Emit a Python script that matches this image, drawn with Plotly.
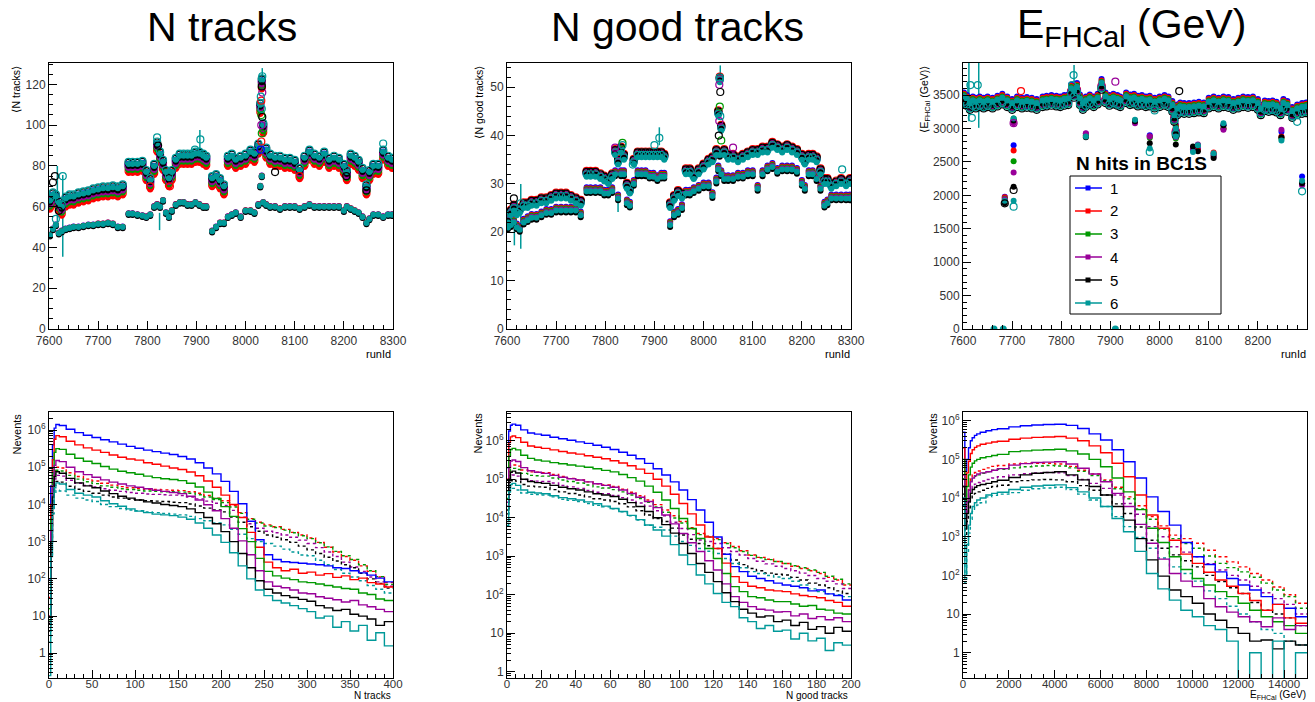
import plotly.graph_objects as go

W, H = 1315, 702


def px(x):
    return x / W


def py(y):
    return 1 - y / H


FONT = "Liberation Sans, Arial, Helvetica, sans-serif"
SERIES_NAMES = ["1", "2", "3", "4", "5", "6"]
COLORS = ["#0000ff", "#ff0000", "#009900", "#990099", "#000000", "#009999"]

# ---------------- top row: profiles vs runId ----------------
RUNS = [
    7602, 7608, 7614, 7620, 7626, 7634, 7642, 7650, 7660, 7670,
    7680, 7690, 7700, 7710, 7720, 7730, 7740, 7750, 7762, 7770,
    7780, 7790, 7798, 7806, 7814, 7820, 7826, 7832, 7838, 7844,
    7850, 7858, 7866, 7874, 7882, 7890, 7898, 7906, 7914, 7920,
    7932, 7940, 7948, 7956, 7964, 7972, 7980, 7990, 8000, 8010,
    8018, 8026, 8030, 8033, 8036, 8042, 8050, 8060, 8070, 8080,
    8090, 8100, 8110, 8120, 8130, 8140, 8150, 8160, 8170, 8180,
    8190, 8200, 8206, 8214, 8222, 8230, 8238, 8246, 8252, 8260,
    8270, 8280, 8290, 8298]

NTRK_UPPER = [
    63, 66, 65, 62, 60, 64, 65, 65, 66, 66.5,
    67, 68, 68.5, 69, 69, 69.5, 69, 70, 81, 81,
    81, 81.5, 77, 73, 80, 91, 86, 82, 77, 74,
    77, 83, 85, 85, 85, 85, 86, 86, 85, 84,
    74, 75, 73, 70, 84, 85, 83, 84, 85, 87,
    86, 90, 110, 122, 100, 88, 85, 84, 84, 83,
    83, 82, 78, 84, 87, 85, 84, 86, 83, 84,
    83, 80, 77, 85, 84, 82, 78, 70, 77, 80,
    80, 87, 84, 83]
NTRK_LOWER = [
    46, 49, 51, 47, 48, 49, 49.5, 50, 50, 50.5,
    51, 51, 51.5, 51.5, 52, 51.5, 50, 50, 56.5, 56.5,
    56, 55.5, 55, 56, 60, 61, 60, 63, 57, 55,
    58, 61, 62, 62, 61, 61, 62, 61, 60, 60,
    48, 50, 52, 52, 55, 56, 57, 55, 58, 58,
    57, 61, 70, 75, 62, 61, 60, 60, 59, 60,
    60, 60, 59, 60, 61, 60, 60, 60, 60, 60,
    60, 58, 60, 59, 58, 57, 55, 52, 54, 56,
    56, 55, 56, 56]
NTRK_UPPER_SHIFT = [-1.5, -4.5, -3.0, -2.0, -1.0, 0.0]
NTRK_OPEN_SHIFT = [-0.5, -3.5, -2.0, -1.0, 0.5, 1.0]
NTRK_LOWER_SHIFT = [0.3, 0.2, 0.0, -0.3, -0.6, 0.0]
NTRK_OPEN_EXTRA = [(7608, 4, 72), (7612, 4, 75), (7614, 5, 54), (7628, 5, 75),
                   (7620, 4, 58), (7908, 5, 93), (7897, 5, 88), (7820, 5, 94),
                   (7822, 4, 90), (8280, 5, 91), (8060, 4, 77), (8110, 1, 75),
                   (8205, 4, 75), (8246, 4, 68), (7806, 1, 70), (7846, 1, 70),
                   (8031, 0, 88), (8032, 1, 92), (8033, 2, 96), (8032, 3, 100),
                   (8034, 4, 104), (8033, 5, 108), (8032, 1, 112), (8034, 3, 116),
                   (8033, 4, 119), (8034, 5, 124), (8032, 2, 105), (8031, 5, 114)]
NTRK_ERR = [(7628, 35.5, 75.5), (7617, 52, 80), (7907, 85, 97.6),
            (7825, 48.5, 57), (8034, 121, 128)]

GOOD_UPPER = [
    23, 24.5, 25.5, 24.5, 25, 26, 26, 26.5, 26.5, 27,
    27, 27.5, 28, 28, 28, 27.5, 27, 26.5, 32.5, 32.5,
    32.5, 32, 31.5, 31, 32, 37, 35, 37.5, 36, 30,
    29, 35, 36.5, 36.5, 36.5, 36.5, 36.5, 36.5, 36.5, 36,
    26, 27.5, 28.5, 28, 33, 33, 32, 33, 34, 35,
    35.5, 37, 45, 52, 42, 37, 36, 36, 35.5, 36,
    36.5, 37, 37, 37.5, 37.5, 38.5, 38, 37.5, 38, 37.5,
    37, 36, 35, 36, 36, 35.5, 33, 31, 31, 30,
    30.5, 31, 30.5, 31]
GOOD_LOWER = [
    21, 21.5, 22, 21, 20.5, 22, 22.5, 23, 23, 23.5,
    24, 24, 24.5, 24.5, 24.5, 24.5, 24.5, 23.5, 28.5, 28.5,
    28.5, 28.5, 28, 28, 28.5, 32, 27, 32, 32, 26,
    25.5, 30, 32, 32, 32, 31.5, 31.5, 31, 31.5, 31.5,
    21.5, 23.5, 24, 25, 28, 28, 28.5, 29, 29.5, 29.5,
    27.5, 30.5, 33, 36, 32, 31, 31, 31, 31.5, 31.5,
    32, 32, 29, 32, 33, 33.5, 32.5, 33, 33, 33,
    32.5, 30, 29, 32, 32, 31, 29, 25.5, 26, 27,
    27, 27, 27, 27]
GOOD_UPPER_SHIFT = [-0.5, 0.0, -0.3, -0.4, -0.6, -1.0]
GOOD_OPEN_SHIFT = [-0.3, 0.2, -0.1, -0.2, 0.0, -0.5]
GOOD_LOWER_SHIFT = [0.8, 0.6, 0.4, 0.2, -0.4, 0.0]
GOOD_OPEN_EXTRA = [(7614, 4, 27), (7628, 5, 26), (7900, 5, 38), (7910, 5, 39.5),
                   (8282, 5, 33), (8060, 3, 37.5), (7820, 3, 37.5), (7835, 2, 38.5),
                   (7835, 5, 38), (7856, 5, 34), (8031, 4, 40), (8032, 3, 43),
                   (8033, 2, 46), (8034, 4, 49), (8033, 5, 52), (8032, 3, 50.5),
                   (8034, 5, 44), (8036, 2, 39)]
GOOD_ERR = [(7615, 17.3, 26), (7628, 16.6, 30), (7910, 38, 41.7),
            (7826, 24.2, 27.6), (8034, 52.4, 54.5)]

E_BAND = [
    3480, 3440, 3380, 3420, 3400, 3420, 3400, 3420, 3400, 3430,
    3460, 3420, 3380, 3420, 3400, 3410, 3400, 3380, 3420, 3430,
    3440, 3430, 3420, 3440, 3450, 3600, 3560, 3620, 3450, 3380,
    3420, 3450, 3420, 3460, 3680, 3480, 3440, 3460, 3440, 3420,
    3480, 3450, 3460, 3430, 3440, 3420, 3430, 3400, 3420, 3440,
    3420, 3350, 3200, 3000, 3300, 3330, 3320, 3320, 3330, 3340,
    3330, 3400, 3420, 3400, 3420, 3410, 3380, 3400, 3420, 3410,
    3420, 3380, 3300, 3360, 3350, 3360, 3340, 3300, 3380, 3350,
    3260, 3300, 3320, 3330]
E_FILLED_SHIFT = [60, 40, 20, 0, -50, 0]
E_OPEN_SHIFT = [-60, -40, -70, -50, -100, -80]
E_OUTLIER_RUNS = [7685, 7703, 7703, 7850, 7950, 7980, 8033, 8068, 8078,
                  8110, 8130, 8248, 8290]
E_OUTLIER_VALUES = [
    [1980, 1970, 1950, 1940, 1880, 1920],
    [2750, 2670, 2510, 2340, 2130, 1920],
    [3120, 3100, 3150, 3080, 3120, 3150],
    [2920, 2900, 2890, 2930, 2870, 2880],
    [3100, 3120, 3100, 3080, 3110, 3130],
    [2900, 2880, 2860, 2880, 2780, 2700],
    [2900, 2880, 2850, 2870, 2760, 2880],
    [2700, 2700, 2680, 2690, 2730, 2650],
    [2700, 2680, 2750, 2760, 2660, 2750],
    [2620, 2640, 2600, 2580, 2560, 2630],
    [3050, 3000, 3000, 2980, 3050, 3080],
    [2950, 2880, 2850, 2980, 2870, 2820],
    [2280, 2180, 2170, 2150, 2180, 2220]]
E_ZERO_RUNS = [7663, 7682, 7910]
E_OPEN_EXTRA = [(7685, 4, 1880), (7703, 4, 2080), (7703, 5, 1830), (7980, 5, 2650),
                (8290, 5, 2060), (7825, 5, 3800), (7822, 5, 3650), (7615, 5, 3650),
                (7630, 5, 3650), (7990, 5, 3270), (8280, 5, 3100), (7618, 5, 3160),
                (8040, 4, 3560), (7718, 1, 3560), (7910, 3, 3700), (7703, 3, 3080)]
E_ERR = [(7612, 3110, 3990), (7632, 3010, 3990), (7826, 3600, 3950), (7610, 3300, 3700)]

# ---------------- bottom row: histograms (values are log10 of Nevents) ----------------
NT_X = [0, 2, 4, 6, 8, 12, 20, 30, 40, 50, 60, 70, 80, 90, 100, 110, 120, 130, 140, 150,
        160, 170, 180, 190, 200, 210, 220, 230, 240, 250, 260, 270, 280, 290, 300, 310,
        320, 330, 340, 350, 360, 370, 380, 390]
NT_SOLID_LOG10 = [
    [2.0, 4.5, 5.6, 6.05, 6.15, 6.12,
     6.02, 5.93, 5.86, 5.80, 5.74, 5.68, 5.62, 5.56, 5.51, 5.46,
     5.42, 5.38, 5.34, 5.29, 5.22, 5.12, 4.98, 4.82, 4.62, 4.35,
     4.02, 3.55, 3.05, 2.65, 2.52, 2.46, 2.44, 2.42, 2.40, 2.38,
     2.35, 2.30, 2.28, 2.22, 2.16, 2.10, 2.02, 1.92],
    [1.5, 4.0, 5.2, 5.75, 5.85, 5.82,
     5.70, 5.60, 5.52, 5.46, 5.40, 5.33, 5.27, 5.22, 5.19, 5.12,
     5.08, 5.03, 4.98, 4.94, 4.87, 4.77, 4.63, 4.46, 4.25, 4.00,
     3.65, 3.25, 2.85, 2.45, 2.30, 2.22, 2.26, 2.15, 2.18, 2.10,
     2.14, 2.04, 2.08, 1.98, 2.02, 1.90, 1.86, 1.78],
    [1.2, 3.6, 4.85, 5.40, 5.50, 5.48,
     5.35, 5.24, 5.16, 5.10, 5.02, 4.95, 4.89, 4.85, 4.81, 4.76,
     4.72, 4.69, 4.67, 4.64, 4.57, 4.47, 4.33, 4.16, 3.94, 3.68,
     3.35, 3.00, 2.55, 2.20, 2.08, 2.02, 1.98, 1.92, 1.90, 1.86,
     1.82, 1.78, 1.74, 1.72, 1.62, 1.58, 1.46, 1.42],
    [1.0, 3.3, 4.5, 5.05, 5.18, 5.15,
     5.00, 4.88, 4.80, 4.73, 4.66, 4.60, 4.55, 4.50, 4.46, 4.42,
     4.38, 4.35, 4.32, 4.29, 4.22, 4.12, 3.99, 3.83, 3.62, 3.36,
     3.02, 2.65, 2.22, 1.92, 1.80, 1.76, 1.70, 1.62, 1.60, 1.52,
     1.48, 1.44, 1.38, 1.42, 1.30, 1.25, 1.18, 1.12],
    [0.8, 3.0, 4.2, 4.75, 4.88, 4.84,
     4.70, 4.58, 4.50, 4.45, 4.36, 4.29, 4.22, 4.17, 4.12, 4.07,
     4.04, 4.00, 3.97, 3.94, 3.88, 3.78, 3.65, 3.48, 3.27, 3.00,
     2.68, 2.30, 1.95, 1.72, 1.62, 1.55, 1.50, 1.45, 1.40, 1.28,
     1.22, 1.15, 1.18, 1.05, 1.00, 0.92, 0.75, 0.85],
    [-0.6, 2.6, 3.9, 4.45, 4.58, 4.55,
     4.40, 4.30, 4.25, 4.20, 4.10, 4.02, 3.95, 3.88, 3.82, 3.78,
     3.74, 3.72, 3.70, 3.66, 3.60, 3.50, 3.36, 3.18, 2.98, 2.70,
     2.35, 2.00, 1.70, 1.55, 1.42, 1.35, 1.28, 1.20, 1.12, 0.95,
     1.00, 0.70, 0.85, 0.60, 0.75, 0.35, 0.55, 0.20]]
NT_DASHED_LOG10 = [
    [1.0, 3.5, 4.5, 4.9, 5.0, 4.98,
     4.85, 4.75, 4.68, 4.63, 4.57, 4.52, 4.48, 4.45, 4.43, 4.41,
     4.40, 4.39, 4.38, 4.37, 4.34, 4.30, 4.24, 4.17, 4.10, 3.97,
     3.78, 3.62, 3.52, 3.45, 3.40, 3.33, 3.25, 3.18, 3.10, 2.98,
     2.85, 2.72, 2.60, 2.50, 2.35, 2.20, 2.05, 1.90],
    [0.9, 3.4, 4.4, 4.82, 4.92, 4.90,
     4.78, 4.68, 4.61, 4.56, 4.50, 4.46, 4.42, 4.40, 4.38, 4.36,
     4.35, 4.34, 4.34, 4.33, 4.30, 4.26, 4.20, 4.13, 4.05, 3.93,
     3.76, 3.60, 3.50, 3.42, 3.38, 3.31, 3.24, 3.16, 3.08, 2.97,
     2.86, 2.74, 2.62, 2.52, 2.38, 2.22, 2.06, 1.85],
    [0.8, 3.2, 4.25, 4.68, 4.78, 4.76,
     4.65, 4.57, 4.51, 4.47, 4.42, 4.38, 4.35, 4.32, 4.30, 4.28,
     4.27, 4.26, 4.25, 4.24, 4.20, 4.15, 4.09, 4.03, 3.97, 3.84,
     3.66, 3.48, 3.36, 3.28, 3.24, 3.18, 3.12, 3.04, 2.95, 2.84,
     2.72, 2.60, 2.45, 2.32, 2.20, 2.05, 1.92, 1.80],
    [0.6, 3.0, 4.1, 4.52, 4.62, 4.60,
     4.49, 4.41, 4.35, 4.30, 4.25, 4.20, 4.17, 4.14, 4.12, 4.10,
     4.09, 4.08, 4.06, 4.05, 4.01, 3.96, 3.90, 3.85, 3.80, 3.66,
     3.52, 3.40, 3.28, 3.18, 3.12, 3.05, 2.98, 2.88, 2.78, 2.68,
     2.58, 2.48, 2.38, 2.30, 2.15, 2.00, 1.88, 1.75],
    [0.3, 2.6, 3.75, 4.28, 4.38, 4.36,
     4.25, 4.17, 4.12, 4.08, 4.00, 3.94, 3.89, 3.85, 3.83, 3.80,
     3.78, 3.76, 3.74, 3.72, 3.68, 3.62, 3.56, 3.50, 3.45, 3.33,
     3.20, 3.08, 3.00, 2.95, 2.88, 2.80, 2.72, 2.64, 2.62, 2.50,
     2.38, 2.25, 2.15, 2.05, 1.95, 1.82, 1.72, 1.62]]

GT_X = [0, 1, 2, 3, 5, 8, 12, 16, 20, 25, 30, 35, 40, 45, 50, 55, 60, 65, 70, 75, 80,
        85, 90, 95, 100, 105, 110, 115, 120, 125, 130, 135, 140, 145, 150, 155, 160,
        165, 170, 175, 180, 185, 190, 195]
GT_SOLID_LOG10 = [
    [5.3, 6.25, 6.40, 6.43, 6.40, 6.28, 6.20, 6.17,
     6.14, 6.09, 6.05, 6.01, 5.97, 5.93, 5.88, 5.83, 5.77, 5.70,
     5.62, 5.53, 5.41, 5.27, 5.11, 4.93, 4.72, 4.47, 4.20, 3.88,
     3.50, 3.05, 2.73, 2.60, 2.48, 2.42, 2.36, 2.30, 2.25, 2.22,
     2.18, 2.10, 2.12, 2.02, 1.98, 1.86],
    [5.0, 5.95, 6.10, 6.12, 6.08, 5.96, 5.86, 5.83,
     5.80, 5.76, 5.72, 5.68, 5.65, 5.61, 5.57, 5.53, 5.48, 5.42,
     5.35, 5.26, 5.15, 5.00, 4.82, 4.61, 4.37, 4.10, 3.81, 3.50,
     3.20, 2.82, 2.47, 2.32, 2.22, 2.18, 2.12, 2.10, 2.08, 2.02,
     1.98, 1.95, 1.92, 1.85, 1.80, 1.70],
    [4.7, 5.6, 5.77, 5.80, 5.76, 5.62, 5.54, 5.50,
     5.47, 5.43, 5.40, 5.37, 5.34, 5.31, 5.27, 5.23, 5.19, 5.12,
     5.04, 4.95, 4.82, 4.66, 4.46, 4.24, 3.98, 3.72, 3.46, 3.20,
     2.94, 2.55, 2.21, 2.08, 1.95, 1.92, 1.86, 1.82, 1.82, 1.76,
     1.70, 1.72, 1.62, 1.60, 1.52, 1.50],
    [4.4, 5.3, 5.47, 5.50, 5.46, 5.30, 5.22, 5.18,
     5.15, 5.10, 5.05, 5.01, 4.98, 4.93, 4.88, 4.84, 4.79, 4.72,
     4.63, 4.53, 4.42, 4.26, 4.07, 3.84, 3.59, 3.35, 3.12, 2.88,
     2.64, 2.28, 1.95, 1.80, 1.69, 1.62, 1.60, 1.55, 1.56, 1.45,
     1.50, 1.38, 1.43, 1.35, 1.40, 1.30],
    [4.2, 5.0, 5.18, 5.21, 5.16, 5.00, 4.94, 4.91,
     4.89, 4.84, 4.79, 4.75, 4.72, 4.67, 4.62, 4.59, 4.55, 4.48,
     4.39, 4.29, 4.16, 4.00, 3.82, 3.60, 3.33, 3.07, 2.81, 2.58,
     2.34, 2.05, 1.82, 1.62, 1.52, 1.42, 1.45, 1.30, 1.34, 1.20,
     1.28, 1.10, 1.17, 1.00, 1.15, 1.05],
    [3.9, 4.7, 4.86, 4.89, 4.84, 4.72, 4.66, 4.64,
     4.62, 4.57, 4.52, 4.49, 4.46, 4.41, 4.36, 4.30, 4.24, 4.16,
     4.06, 3.95, 3.81, 3.68, 3.52, 3.30, 3.03, 2.78, 2.51, 2.28,
     2.03, 1.80, 1.69, 1.40, 1.30, 1.12, 1.20, 1.05, 1.08, 0.85,
     1.00, 0.80, 0.87, 0.55, 0.75, 0.69]]
GT_DASHED_LOG10 = [
    [4.6, 5.2, 5.35, 5.37, 5.34, 5.24, 5.19, 5.18,
     5.17, 5.12, 5.07, 5.02, 4.98, 4.93, 4.88, 4.85, 4.81, 4.74,
     4.66, 4.57, 4.46, 4.34, 4.20, 4.05, 3.90, 3.74, 3.59, 3.52,
     3.46, 3.35, 3.25, 3.14, 3.03, 2.97, 2.92, 2.86, 2.81, 2.74,
     2.68, 2.62, 2.55, 2.45, 2.38, 2.25],
    [4.5, 5.1, 5.26, 5.28, 5.25, 5.15, 5.10, 5.09,
     5.08, 5.03, 4.98, 4.94, 4.90, 4.85, 4.80, 4.77, 4.73, 4.67,
     4.59, 4.50, 4.40, 4.28, 4.14, 3.99, 3.86, 3.71, 3.56, 3.50,
     3.43, 3.33, 3.22, 3.12, 3.02, 2.96, 2.91, 2.86, 2.81, 2.75,
     2.70, 2.64, 2.58, 2.48, 2.40, 2.28],
    [4.3, 4.95, 5.09, 5.11, 5.08, 4.99, 4.96, 4.95,
     4.94, 4.90, 4.84, 4.80, 4.76, 4.71, 4.66, 4.62, 4.58, 4.52,
     4.46, 4.38, 4.30, 4.18, 4.05, 3.88, 3.72, 3.56, 3.42, 3.38,
     3.33, 3.22, 3.12, 3.03, 2.94, 2.87, 2.80, 2.74, 2.68, 2.62,
     2.56, 2.50, 2.42, 2.35, 2.28, 2.16],
    [4.1, 4.8, 4.96, 4.98, 4.95, 4.86, 4.82, 4.80,
     4.79, 4.73, 4.67, 4.63, 4.59, 4.54, 4.49, 4.46, 4.42, 4.36,
     4.28, 4.18, 4.07, 3.98, 3.90, 3.73, 3.55, 3.44, 3.33, 3.27,
     3.20, 3.05, 2.90, 2.78, 2.68, 2.62, 2.56, 2.53, 2.51, 2.45,
     2.38, 2.30, 2.25, 2.18, 2.10, 2.03],
    [3.8, 4.6, 4.74, 4.76, 4.72, 4.64, 4.61, 4.60,
     4.59, 4.54, 4.48, 4.45, 4.42, 4.37, 4.32, 4.28, 4.23, 4.15,
     4.05, 3.94, 3.80, 3.75, 3.68, 3.52, 3.38, 3.28, 3.20, 3.13,
     3.07, 2.94, 2.81, 2.70, 2.60, 2.55, 2.50, 2.46, 2.42, 2.35,
     2.25, 2.15, 2.08, 2.02, 2.00, 1.95]]

E_X = [0, 80, 160, 240, 320, 400, 500, 600, 750, 1000, 1250, 1500, 2000, 2500, 3000,
       3500, 4000, 4500, 5000, 5500, 6000, 6500, 7000, 7500, 8000, 8500, 9000, 9500,
       10000, 10500, 11000, 11500, 12000, 12500, 13000, 13500, 14000, 14500]
E_SOLID_LOG10 = [
    [5.7, 4.7, 5.0, 5.3, 5.48, 5.56, 5.62, 5.66, 5.70, 5.74, 5.77, 5.79,
     5.84, 5.87, 5.89, 5.90, 5.91, 5.88, 5.80, 5.66, 5.50, 5.25, 4.94, 4.52, 4.03, 3.65,
     3.30, 2.85, 2.48, 2.28, 2.09, 1.92, 1.75, 1.62, 1.45, 1.25, 1.15, 0.93],
    [5.3, 4.3, 4.65, 4.95, 5.15, 5.25, 5.31, 5.35, 5.39, 5.42, 5.45, 5.47,
     5.52, 5.55, 5.57, 5.58, 5.59, 5.55, 5.48, 5.35, 5.17, 4.90, 4.55, 4.08, 3.56, 3.22,
     2.91, 2.55, 2.31, 2.08, 1.88, 1.72, 1.53, 1.35, 1.10, 1.25, 0.90, 0.76],
    [5.0, 3.9, 4.3, 4.6, 4.8, 4.9, 4.96, 5.0, 5.04, 5.07, 5.10, 5.13,
     5.20, 5.22, 5.24, 5.25, 5.26, 5.22, 5.14, 5.0, 4.81, 4.52, 4.16, 3.70, 3.22, 2.85,
     2.48, 2.15, 1.92, 1.75, 1.58, 1.45, 1.28, 1.10, 0.93, 0.80, 0.70, 0.50],
    [4.6, 3.5, 3.9, 4.2, 4.42, 4.52, 4.58, 4.62, 4.65, 4.68, 4.72, 4.76,
     4.85, 4.89, 4.92, 4.93, 4.94, 4.88, 4.77, 4.62, 4.42, 4.12, 3.78, 3.32, 2.83, 2.42,
     2.05, 1.85, 1.71, 1.40, 1.19, 1.05, 0.93, 0.80, 0.67, 0.90, 0.60, 0.70],
    [4.3, 3.2, 3.6, 3.9, 4.12, 4.22, 4.28, 4.32, 4.35, 4.38, 4.42, 4.46,
     4.53, 4.60, 4.64, 4.66, 4.68, 4.60, 4.47, 4.30, 4.08, 3.78, 3.43, 2.95, 2.40, 1.98,
     1.62, 1.45, 1.28, 1.00, 0.84, 0.65, 0.50, 0.30, 0.33, 0.10, 0.30, 0.20],
    [4.0, 2.0, 2.8, 3.3, 3.6, 3.78, 3.88, 3.95, 4.0, 4.08, 4.12, 4.15,
     4.22, 4.28, 4.31, 4.33, 4.34, 4.27, 4.16, 4.0, 3.78, 3.47, 3.13, 2.62, 2.05, 1.65,
     1.36, 1.10, 0.93, 0.70, 0.60, 0.30, -0.7, 0.0, -0.7, 0.3, -0.7, 0.0]]
E_DASHED_LOG10 = [
    [4.6, 3.6, 4.0, 4.3, 4.5, 4.6, 4.66, 4.70, 4.74, 4.78, 4.82, 4.84,
     4.88, 4.90, 4.90, 4.90, 4.88, 4.82, 4.72, 4.62, 4.47, 4.28, 4.03, 3.80, 3.52, 3.28,
     3.04, 2.95, 2.83, 2.65, 2.48, 2.35, 2.22, 2.05, 1.88, 1.70, 1.50, 1.28],
    [4.5, 3.5, 3.9, 4.2, 4.4, 4.5, 4.56, 4.60, 4.64, 4.68, 4.72, 4.74,
     4.78, 4.81, 4.83, 4.84, 4.83, 4.78, 4.69, 4.58, 4.44, 4.24, 3.98, 3.72, 3.45, 3.20,
     2.95, 2.82, 2.70, 2.50, 2.31, 2.20, 2.09, 1.95, 1.80, 1.62, 1.45, 1.15],
    [4.3, 3.3, 3.7, 4.0, 4.2, 4.3, 4.36, 4.40, 4.44, 4.48, 4.52, 4.55,
     4.60, 4.63, 4.65, 4.66, 4.65, 4.58, 4.48, 4.38, 4.25, 4.08, 3.86, 3.58, 3.26, 3.00,
     2.74, 2.60, 2.48, 2.30, 2.14, 2.00, 1.88, 1.72, 1.55, 1.40, 1.25, 1.00],
    [4.1, 3.0, 3.4, 3.75, 3.95, 4.05, 4.12, 4.16, 4.20, 4.25, 4.30, 4.33,
     4.42, 4.45, 4.47, 4.48, 4.47, 4.42, 4.32, 4.20, 4.08, 3.85, 3.60, 3.25, 2.91, 2.70,
     2.53, 2.38, 2.22, 2.00, 1.84, 1.68, 1.53, 1.30, 1.10, 1.00, 0.90, 0.70],
    [3.8, 1.8, 2.6, 3.1, 3.45, 3.65, 3.75, 3.82, 3.88, 4.03, 4.07, 4.10,
     4.14, 4.20, 4.24, 4.26, 4.28, 4.22, 4.10, 3.95, 3.78, 3.52, 3.26, 2.98, 2.70, 2.45,
     2.22, 2.05, 1.85, 1.60, 1.40, 1.20, 1.00, 0.80, 0.60, 0.50, 0.30, 0.20]]

for arr in (NTRK_UPPER, NTRK_LOWER, GOOD_UPPER, GOOD_LOWER, E_BAND):
    assert len(arr) == len(RUNS), len(arr)
for grid, groups in ((NT_X, (NT_SOLID_LOG10, NT_DASHED_LOG10)),
                     (GT_X, (GT_SOLID_LOG10, GT_DASHED_LOG10)),
                     (E_X, (E_SOLID_LOG10, E_DASHED_LOG10))):
    for g in groups:
        for s in g:
            assert len(s) == len(grid), (len(s), len(grid))

# ---------------- figure ----------------
fig = go.Figure()

XD = [(49, 393), (507, 851), (963, 1307)]
YD_TOP = (63, 329)
YD_BOT = (412, 678)


def ref(k, kind):
    return kind if k == 1 else f"{kind}{k}"


def add_markers(k, xs, ys, color, open_=False, size=6):
    fig.add_trace(go.Scatter(
        x=xs, y=ys, mode="markers", xaxis=ref(k, "x"), yaxis=ref(k, "y"),
        showlegend=False, hoverinfo="skip",
        marker=dict(symbol="circle-open" if open_ else "circle",
                    size=size + (1 if open_ else 0), color=color,
                    line=dict(width=1.2 if open_ else 0, color=color))))


def add_errs(k, errs, color):
    xs, ys = [], []
    for r, lo, hi in errs:
        xs += [r, r, None]
        ys += [lo, hi, None]
    fig.add_trace(go.Scatter(x=xs, y=ys, mode="lines", xaxis=ref(k, "x"), yaxis=ref(k, "y"),
                             showlegend=False, hoverinfo="skip",
                             line=dict(color=color, width=1.5)))


# panel 1 and 2: two bands
for k, upper, lower, ush, osh, lsh, extra, errs in (
        (1, NTRK_UPPER, NTRK_LOWER, NTRK_UPPER_SHIFT, NTRK_OPEN_SHIFT, NTRK_LOWER_SHIFT,
         NTRK_OPEN_EXTRA, NTRK_ERR),
        (2, GOOD_UPPER, GOOD_LOWER, GOOD_UPPER_SHIFT, GOOD_OPEN_SHIFT, GOOD_LOWER_SHIFT,
         GOOD_OPEN_EXTRA, GOOD_ERR)):
    add_errs(k, errs, COLORS[5])
    for i, c in enumerate(COLORS):
        add_markers(k, RUNS, [v + lsh[i] for v in lower], c)
        add_markers(k, RUNS, [v + ush[i] for v in upper], c)
        add_markers(k, RUNS, [v + osh[i] for v in upper], c, open_=True)
    for i, c in enumerate(COLORS):
        pts = [(r, v) for r, s, v in extra if s == i]
        if pts:
            add_markers(k, [p[0] for p in pts], [p[1] for p in pts], c, open_=True)

# panel 3: single band + outliers
add_errs(3, E_ERR, COLORS[5])
for i, c in enumerate(COLORS):
    add_markers(3, RUNS, [v + E_OPEN_SHIFT[i] for v in E_BAND], c, open_=True)
    add_markers(3, RUNS, [v + E_FILLED_SHIFT[i] for v in E_BAND], c)
    add_markers(3, E_OUTLIER_RUNS, [vals[i] for vals in E_OUTLIER_VALUES], c)
for i, c in enumerate(COLORS):
    pts = [(r, v) for r, s, v in E_OPEN_EXTRA if s == i]
    if pts:
        add_markers(3, [p[0] for p in pts], [p[1] for p in pts], c, open_=True)
add_markers(3, E_ZERO_RUNS, [0] * len(E_ZERO_RUNS), COLORS[5], size=7)


# bottom row histograms
def add_hist(k, grid, xmax, logvals, color, dashed):
    ys = [10 ** v for v in logvals]
    fig.add_trace(go.Scatter(
        x=list(grid) + [xmax], y=ys + [ys[-1]], mode="lines", line_shape="hv",
        xaxis=ref(k, "x"), yaxis=ref(k, "y"), showlegend=False, hoverinfo="skip",
        line=dict(color=color, width=1.4, dash="3px,3px" if dashed else "solid")))


for k, grid, xmax, solid, dashed in ((4, NT_X, 400, NT_SOLID_LOG10, NT_DASHED_LOG10),
                                     (5, GT_X, 200, GT_SOLID_LOG10, GT_DASHED_LOG10),
                                     (6, E_X, 15000, E_SOLID_LOG10, E_DASHED_LOG10)):
    for j, vals in enumerate(dashed):
        add_hist(k, grid, xmax, vals, COLORS[j + 1], True)
    for j, vals in enumerate(solid):
        add_hist(k, grid, xmax, vals, COLORS[j], False)

# ---------------- axes ----------------
TICKFONT = dict(family=FONT, size=12, color="#333333")


def base_axis(domain, rng, dtick=None, minor_dtick=None, anchor=None):
    d = dict(domain=domain, range=rng, showline=True, linecolor="#000000", linewidth=1,
             mirror=True, ticks="inside", ticklen=8, tickwidth=1, tickcolor="#000000",
             showgrid=False, zeroline=False, tickfont=TICKFONT, anchor=anchor,
             fixedrange=True, automargin=False)
    if dtick is not None:
        d.update(dtick=dtick, tick0=0, tickformat="d")
    if minor_dtick is not None:
        d["minor"] = dict(ticks="inside", ticklen=4, dtick=minor_dtick, tick0=0,
                          tickcolor="#000000", showgrid=False)
    return d


TOP_Y = [([0, 130.5], 20, 5), ([0, 55], 10, 2), ([0, 3980], 500, 100)]
BOT_X = [([0, 400], 50, 10), ([0, 200], 20, 5), ([0, 15000], 2000, 500)]
BOT_Y = [[-0.664, 6.484], [-0.164, 6.745], [-0.654, 6.225]]

LOG_TICKVALS = [1, 10, 100, 1e3, 1e4, 1e5, 1e6]
LOG_TICKTEXT = ["1", "10", "10<sup>2</sup>", "10<sup>3</sup>", "10<sup>4</sup>",
                "10<sup>5</sup>", "10<sup>6</sup>"]
LOG_MINOR = [m * 10 ** e for e in range(-1, 7) for m in range(2, 10)]

layout_axes = {}
for p in range(3):
    xd = (px(XD[p][0]), px(XD[p][1]))
    k = p + 1
    xa = base_axis(xd, [7600, 8300], 100, 20, anchor=ref(k, "y"))
    xa["ticklabelstandoff"] = 1
    layout_axes[("xaxis" if k == 1 else f"xaxis{k}")] = xa
    rng, dt, mdt = TOP_Y[p]
    layout_axes[("yaxis" if k == 1 else f"yaxis{k}")] = base_axis(
        (py(YD_TOP[1]), py(YD_TOP[0])), rng, dt, mdt, anchor=ref(k, "x"))
    k = p + 4
    rng, dt, mdt = BOT_X[p]
    xa = base_axis(xd, rng, dt, mdt, anchor=ref(k, "y"))
    xa["ticklabelstandoff"] = -5
    xa["tickfont"] = dict(family=FONT, size=11.5, color="#333333")
    layout_axes[f"xaxis{k}"] = xa
    ya = base_axis((py(YD_BOT[1]), py(YD_BOT[0])), BOT_Y[p], anchor=ref(k, "x"))
    ya.update(type="log", tickmode="array", tickvals=LOG_TICKVALS, ticktext=LOG_TICKTEXT,
              minor=dict(ticks="inside", ticklen=4, tickmode="array", tickvals=LOG_MINOR,
                         tickcolor="#000000", showgrid=False))
    layout_axes[f"yaxis{k}"] = ya

fig.update_layout(**layout_axes)

# ---------------- text ----------------
ann = []
TITLES = ["N tracks", "N good tracks", "E<sub>FHCal</sub> (GeV)"]
TITLE_X = [222, 677, 1131]
for t, x in zip(TITLES, TITLE_X):
    ann.append(dict(text=t, x=px(x), y=py(27), xref="paper", yref="paper",
                    xanchor="center", yanchor="middle", showarrow=False,
                    font=dict(family=FONT, size=41, color="#000000")))

YTITLES_TOP = ["⟨N tracks⟩", "⟨N good tracks⟩", "⟨E<sub>FHCal</sub> (GeV)⟩"]
YTITLE_X_TOP = [15, 478, 924]
for t, x in zip(YTITLES_TOP, YTITLE_X_TOP):
    ann.append(dict(text=t, x=px(x), y=py(64), xref="paper", yref="paper",
                    xanchor="center", yanchor="top", textangle=-90, showarrow=False,
                    font=dict(family=FONT, size=10.5, color="#000000")))
for x in (16, 477, 932):
    ann.append(dict(text="Nevents", x=px(x), y=py(411), xref="paper", yref="paper",
                    xanchor="center", yanchor="top", textangle=-90, showarrow=False,
                    font=dict(family=FONT, size=11, color="#000000")))
for x in (392, 851, 1307):
    ann.append(dict(text="runId", x=px(x), y=py(347), xref="paper", yref="paper",
                    xanchor="right", yanchor="top", showarrow=False, borderpad=0,
                    font=dict(family=FONT, size=11, color="#000000")))
XTITLES_BOT = ["N tracks", "N good tracks", "E<sub>FHCal</sub> (GeV)"]
for t, x in zip(XTITLES_BOT, (392, 849, 1307)):
    ann.append(dict(text=t, x=px(x), y=py(702), xref="paper", yref="paper",
                    xanchor="right", yanchor="bottom", showarrow=False, borderpad=0,
                    font=dict(family=FONT, size=10, color="#000000")))

# legend (drawn manually, ROOT style)
shapes = [dict(type="rect", xref="paper", yref="paper", x0=px(1070), x1=px(1221),
               y0=py(314), y1=py(176), line=dict(color="#000000", width=1),
               fillcolor="white", layer="above")]
ann.append(dict(text="<b>N hits in BC1S</b>", x=px(1141), y=py(163), xref="paper",
                yref="paper", xanchor="center", yanchor="middle", showarrow=False,
                font=dict(family=FONT, size=19, color="#000000")))
ROW_Y = [188, 211, 234, 257, 280, 303]
for name, c, yy in zip(SERIES_NAMES, COLORS, ROW_Y):
    shapes.append(dict(type="line", xref="paper", yref="paper", x0=px(1075), x1=px(1102),
                       y0=py(yy), y1=py(yy), line=dict(color=c, width=1.5), layer="above"))
    shapes.append(dict(type="rect", xref="paper", yref="paper", x0=px(1085.5), x1=px(1090.5),
                       y0=py(yy + 2.5), y1=py(yy - 2.5), line=dict(color=c, width=0),
                       fillcolor=c, layer="above"))
    ann.append(dict(text=name, x=px(1108), y=py(yy), xref="paper", yref="paper",
                    xanchor="left", yanchor="middle", showarrow=False,
                    font=dict(family=FONT, size=15, color="#000000")))

fig.update_layout(width=W, height=H, autosize=False,
                  margin=dict(l=0, r=0, t=0, b=0, autoexpand=False),
                  paper_bgcolor="white", plot_bgcolor="white",
                  showlegend=False, annotations=ann, shapes=shapes)

fig.write_html("out.html", config={"displayModeBar": False},
               post_script="document.body.style.margin='0';document.body.style.padding='0';")
